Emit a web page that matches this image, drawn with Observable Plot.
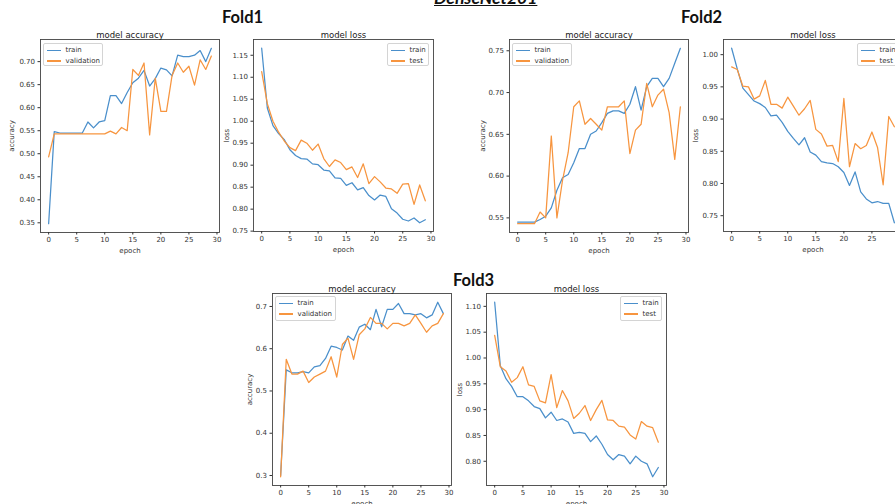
<!DOCTYPE html>
<html>
<head>
<meta charset="utf-8">
<script src="https://cdn.jsdelivr.net/npm/d3@7"></script>
<script src="https://cdn.jsdelivr.net/npm/@observablehq/plot@0.6"></script>
<style>
html,body{margin:0;padding:0;background:#fff;overflow:hidden;}
#root{position:relative;width:895px;height:504px;overflow:hidden;font-family:"DejaVu Sans",sans-serif;}
.panel{position:absolute;}
.panel svg{overflow:visible;max-width:none !important;}
.legend{position:absolute;box-sizing:border-box;background:rgba(255,255,255,0.85);border:1px solid #d4d4d4;border-radius:2px;font-family:"DejaVu Sans",sans-serif;font-size:7px;color:#333;padding-top:1px;white-space:nowrap;}
.legend .row{height:10.6px;line-height:10.6px;display:flex;align-items:center;}
.legend .sw{display:inline-block;width:14px;height:1.3px;margin-left:3px;margin-right:4.5px;}
.big{position:absolute;font-family:Lato,"Open Sans",sans-serif;font-weight:700;color:#111;line-height:1;white-space:nowrap;}
</style>
</head>
<body>
<div id="root"></div>
<script>
const epochs = [0,1,2,3,4,5,6,7,8,9,10,11,12,13,14,15,16,17,18,19,20,21,22,23,24,25,26,27,28,29];
const xTicks = [0,5,10,15,20,25,30];

const fold1AccTrain = [0.348,0.548,0.545,0.545,0.545,0.545,0.545,0.569,0.556,0.569,0.572,0.626,0.626,0.609,0.633,0.654,0.664,0.681,0.647,0.663,0.686,0.682,0.669,0.714,0.711,0.711,0.714,0.724,0.700,0.729];
const fold1AccVal   = [0.493,0.543,0.543,0.543,0.543,0.543,0.543,0.543,0.543,0.543,0.543,0.549,0.543,0.557,0.550,0.683,0.670,0.697,0.541,0.664,0.592,0.592,0.670,0.697,0.677,0.690,0.649,0.704,0.683,0.712];
const fold1LossTrain = [1.166,1.030,0.990,0.972,0.958,0.935,0.922,0.915,0.914,0.903,0.901,0.889,0.887,0.871,0.870,0.854,0.860,0.844,0.849,0.831,0.821,0.832,0.829,0.801,0.791,0.777,0.773,0.780,0.769,0.776];
const fold1LossTest  = [1.113,1.040,1.000,0.975,0.955,0.940,0.933,0.957,0.950,0.934,0.948,0.915,0.897,0.912,0.906,0.890,0.896,0.872,0.903,0.858,0.874,0.862,0.848,0.846,0.836,0.857,0.858,0.811,0.855,0.819];

const fold2AccTrain = [0.545,0.545,0.545,0.545,0.548,0.552,0.562,0.583,0.598,0.602,0.616,0.633,0.633,0.650,0.654,0.664,0.675,0.678,0.678,0.675,0.686,0.707,0.679,0.707,0.717,0.717,0.707,0.717,0.735,0.753];
const fold2AccVal   = [0.543,0.543,0.543,0.543,0.557,0.550,0.648,0.550,0.595,0.628,0.683,0.690,0.662,0.669,0.662,0.655,0.683,0.683,0.683,0.690,0.627,0.655,0.662,0.711,0.683,0.697,0.704,0.676,0.620,0.683];
const fold2LossTrain = [1.010,0.978,0.948,0.938,0.928,0.924,0.918,0.905,0.906,0.895,0.881,0.870,0.860,0.871,0.849,0.844,0.834,0.832,0.831,0.826,0.817,0.797,0.818,0.787,0.776,0.770,0.772,0.769,0.769,0.739];
const fold2LossTest  = [0.981,0.977,0.951,0.950,0.931,0.936,0.960,0.923,0.923,0.917,0.934,0.920,0.906,0.916,0.929,0.884,0.877,0.858,0.859,0.834,0.932,0.826,0.862,0.854,0.859,0.880,0.856,0.798,0.904,0.888];

const fold3AccTrain = [0.300,0.550,0.543,0.543,0.546,0.543,0.557,0.560,0.577,0.606,0.603,0.597,0.630,0.620,0.651,0.658,0.645,0.693,0.652,0.693,0.693,0.707,0.683,0.683,0.680,0.683,0.673,0.680,0.710,0.683];
const fold3AccVal   = [0.297,0.575,0.540,0.540,0.547,0.520,0.533,0.540,0.547,0.581,0.533,0.610,0.625,0.575,0.633,0.647,0.674,0.660,0.660,0.647,0.660,0.660,0.654,0.660,0.680,0.660,0.639,0.654,0.660,0.683];
const fold3LossTrain = [1.108,0.985,0.960,0.945,0.925,0.925,0.917,0.906,0.902,0.884,0.895,0.879,0.882,0.876,0.854,0.856,0.854,0.838,0.849,0.833,0.813,0.803,0.813,0.810,0.795,0.810,0.800,0.795,0.770,0.788];
const fold3LossTest  = [1.044,0.983,0.975,0.953,0.962,0.983,0.948,0.945,0.917,0.913,0.968,0.904,0.937,0.917,0.883,0.893,0.908,0.879,0.900,0.918,0.880,0.879,0.868,0.866,0.851,0.843,0.877,0.868,0.865,0.837];

const fold1AccTicks  = [0.35,0.40,0.45,0.50,0.55,0.60,0.65,0.70];
const fold1LossTicks = [0.75,0.80,0.85,0.90,0.95,1.00,1.05,1.10,1.15];
const fold2AccTicks  = [0.55,0.60,0.65,0.70,0.75];
const fold2LossTicks = [0.75,0.80,0.85,0.90,0.95,1.00];
const fold3AccTicks  = [0.3,0.4,0.5,0.6,0.7];
const fold3LossTicks = [0.80,0.85,0.90,0.95,1.00,1.05,1.10];

const blue = "#4a8fcb";
const orange = "#f7953f";

const root = document.getElementById("root");

function addPanel(cfg) {
  const mL = 48, mT = 18, mB = 28, mR = 6;
  const vals = cfg.series.flatMap(s => s.values);
  const lo = d3.min(vals), hi = d3.max(vals), pad = (hi - lo) * 0.05;
  const rows = cfg.series.flatMap(s => s.values.map((v, i) => ({epoch: epochs[i], value: v, name: s.name})));
  const W = cfg.w + mL + mR, H = cfg.h + mT + mB;
  const svg = Plot.plot({
    width: W,
    height: H,
    marginLeft: mL, marginRight: mR, marginTop: mT, marginBottom: mB,
    style: {fontFamily: "DejaVu Sans, sans-serif", fontSize: "7px", color: "#333", background: "transparent", overflow: "visible", maxWidth: "none"},
    x: {domain: [-1.45, 30.45]},
    y: {domain: [lo - pad, hi + pad]},
    color: {domain: cfg.series.map(s => s.name), range: cfg.series.map(s => s.color)},
    marks: [
      Plot.line(rows, {x: "epoch", y: "value", z: "name", stroke: "name", strokeWidth: 1.25}),
      Plot.frame({stroke: "#444", strokeWidth: 0.9}),
      Plot.axisX({ticks: xTicks, tickSize: 2.5, tickPadding: 2.5, fontSize: 7, label: "epoch", labelAnchor: "center", labelArrow: "none", labelOffset: 20}),
      Plot.axisY({ticks: cfg.yTicks, tickFormat: d3.format(cfg.fmt), tickSize: 2.5, tickPadding: 3, fontSize: 7, label: cfg.yLabel, labelAnchor: "center", labelArrow: "none", labelOffset: cfg.yLabelOffset}),
      Plot.text([cfg.title], {frameAnchor: "top", dy: -8, fontSize: 8.5, fill: "#222"})
    ]
  });
  svg.style.maxWidth = "none";
  svg.style.width = W + "px";
  svg.style.height = H + "px";
  const wrap = document.createElement("div");
  wrap.className = "panel";
  wrap.style.left = (cfg.left - mL) + "px";
  wrap.style.top = (cfg.top - mT) + "px";
  wrap.style.width = W + "px";
  wrap.style.height = H + "px";
  wrap.appendChild(svg);
  root.appendChild(wrap);

  const lg = document.createElement("div");
  lg.className = "legend";
  lg.style.left = cfg.legend[0] + "px";
  lg.style.top = cfg.legend[1] + "px";
  lg.style.width = cfg.legend[2] + "px";
  lg.style.height = cfg.legend[3] + "px";
  for (const s of cfg.series) {
    const r = document.createElement("div");
    r.className = "row";
    const sw = document.createElement("span");
    sw.className = "sw";
    sw.style.background = s.color;
    r.appendChild(sw);
    r.appendChild(document.createTextNode(s.name));
    lg.appendChild(r);
  }
  root.appendChild(lg);
}

function addBig(text, left, top, size, extra) {
  const d = document.createElement("div");
  d.className = "big";
  d.textContent = text;
  d.style.left = left + "px";
  d.style.top = top + "px";
  d.style.fontSize = size + "px";
  if (extra) Object.assign(d.style, extra);
  root.appendChild(d);
}

addPanel({left: 40, top: 39, w: 179, h: 193, title: "model accuracy", yLabel: "accuracy", yLabelOffset: 31,
  yTicks: fold1AccTicks, fmt: ".2f", legend: [43, 43, 60, 23],
  series: [{name: "train", values: fold1AccTrain, color: blue}, {name: "validation", values: fold1AccVal, color: orange}]});
addPanel({left: 253, top: 39, w: 180, h: 192, title: "model loss", yLabel: "loss", yLabelOffset: 29,
  yTicks: fold1LossTicks, fmt: ".2f", legend: [387, 43, 42, 23],
  series: [{name: "train", values: fold1LossTrain, color: blue}, {name: "test", values: fold1LossTest, color: orange}]});
addPanel({left: 509, top: 39, w: 179, h: 193, title: "model accuracy", yLabel: "accuracy", yLabelOffset: 29,
  yTicks: fold2AccTicks, fmt: ".2f", legend: [512, 43, 60, 23],
  series: [{name: "train", values: fold2AccTrain, color: blue}, {name: "validation", values: fold2AccVal, color: orange}]});
addPanel({left: 723, top: 39, w: 179, h: 192, title: "model loss", yLabel: "loss", yLabelOffset: 30,
  yTicks: fold2LossTicks, fmt: ".2f", legend: [857, 43, 42, 23],
  series: [{name: "train", values: fold2LossTrain, color: blue}, {name: "test", values: fold2LossTest, color: orange}]});
addPanel({left: 272, top: 293, w: 179, h: 192, title: "model accuracy", yLabel: "accuracy", yLabelOffset: 25,
  yTicks: fold3AccTicks, fmt: ".1f", legend: [275, 296, 61, 25],
  series: [{name: "train", values: fold3AccTrain, color: blue}, {name: "validation", values: fold3AccVal, color: orange}]});
addPanel({left: 486, top: 293, w: 180, h: 192, title: "model loss", yLabel: "loss", yLabelOffset: 29,
  yTicks: fold3LossTicks, fmt: ".2f", legend: [620, 296, 42, 25],
  series: [{name: "train", values: fold3LossTrain, color: blue}, {name: "test", values: fold3LossTest, color: orange}]});

addBig("DenseNet201", 434, -11, 17.5, {fontStyle: "italic", textDecoration: "underline"});
addBig("Fold1", 222, 9, 16.5);
addBig("Fold2", 681, 9, 16.5);
addBig("Fold3", 453, 272, 16.5);
</script>
</body>
</html>
